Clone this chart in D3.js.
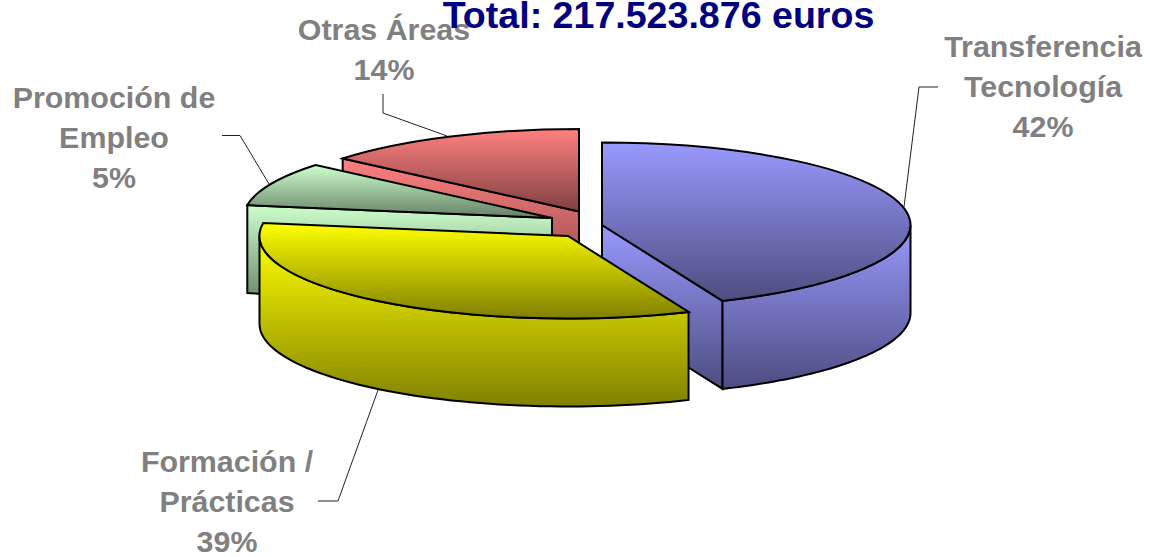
<!DOCTYPE html>
<html>
<head>
<meta charset="utf-8">
<script src="https://cdn.jsdelivr.net/npm/d3@7"></script>
<style>
html,body{margin:0;padding:0;background:#fff;overflow:hidden}
svg{display:block}
text{font-family:"Liberation Sans",Arial,sans-serif;font-weight:bold}
</style>
</head>
<body>
<script>
// ---- data ----
const titleText = "Total: 217.523.876 euros";
const categories = ["Transferencia Tecnología", "Formación / Prácticas", "Promoción de Empleo", "Otras Áreas"];
const shares = [42, 39, 5, 14];
const labelLines = [["Transferencia","Tecnología","42%"],["Formación /","Prácticas","39%"],["Promoción de","Empleo","5%"],["Otras Áreas","14%"]];
const topColors = ["#9999ff","#ffff00","#ccffcc","#ff8080"];
const bottomColors = ["#4d4d80","#808000","#668066","#804040"];

// ---- layout ----
const W = 1149, H = 557, rx = 308.5, ry = 82.5, depth = 88;
const centers = [[602,225],[568,236],[552,218],[579,211.5]];
const labelPos = [[1043,57],[227,472],[114,108],[384,40]];
const leaders = [
  [[904,207],[919,87],[938,87]],
  [[378,390],[338,501],[318,501]],
  [[269,184],[240,135.5],[222,135.5]],
  [[447,136],[383,113],[383,94]]
];
const lineH = 40, drawOrder = [3,0,2,1];

const svg = d3.select("body").append("svg").attr("width",W).attr("height",H);
const defs = svg.append("defs");
categories.forEach((c,i)=>{
  const g = defs.append("linearGradient").attr("id","g"+i).attr("x1",0).attr("y1",0).attr("x2",0).attr("y2",1);
  g.append("stop").attr("offset",0).attr("stop-color",topColors[i]);
  g.append("stop").attr("offset",1).attr("stop-color",bottomColors[i]);
});

// pie angles, then the chart's 3-D foreshortening of those angles
const deg = Math.PI/180;
const arcsRaw = d3.pie().sort(null).value(d=>d)(shares);
const foreshorten = d3.scaleLinear()
  .domain([0,151.2,291.6,309.6,360].map(d=>d*deg))
  .range([0,157,279,310,360].map(d=>d*deg));
const arcs = arcsRaw.map(a=>({...a,startAngle:foreshorten(a.startAngle),endAngle:foreshorten(a.endAngle)}));

const arcGen = d3.arc().innerRadius(0).outerRadius(rx);
const lineGen = d3.line();
const pt = (i,a,z=0)=>[centers[i][0]+rx*Math.sin(a), centers[i][1]-ry*Math.cos(a)+z];

function style(sel,i){
  return sel.attr("fill",`url(#g${i})`).attr("stroke","#000").attr("stroke-width",2)
    .attr("stroke-linejoin","miter");
}

// leader lines sit behind the pie
const leaderLine = d3.line();
svg.append("g").selectAll("path").data(leaders).join("path")
  .attr("d",d=>leaderLine(d)).attr("fill","none").attr("stroke","#222").attr("stroke-width",1);

drawOrder.forEach(i=>{
  const d = arcs[i], g = svg.append("g");
  const c = centers[i];
  // cut faces facing the viewer
  [[d.startAngle,d.startAngle-Math.PI/2],[d.endAngle,d.endAngle+Math.PI/2]].forEach(([a,n])=>{
    if(Math.cos(n) < -1e-6){
      const p = pt(i,a);
      style(g.append("path"),i).attr("d",lineGen([c,p,[p[0],p[1]+depth],[c[0],c[1]+depth]])+"Z");
    }
  });
  // rim, front half only
  const a0 = Math.max(d.startAngle,Math.PI/2), a1 = Math.min(d.endAngle,1.5*Math.PI);
  if(a1>a0){
    const as = d3.range(0,61).map(k=>a0+(a1-a0)*k/60);
    const rim = as.map(a=>pt(i,a)).concat(as.slice().reverse().map(a=>pt(i,a,depth)));
    style(g.append("path"),i).attr("d",lineGen(rim)+"Z");
  }
  // top face
  style(g.append("path"),i)
    .attr("d",arcGen(d))
    .attr("transform",`translate(${c[0]},${c[1]}) scale(1,${ry/rx})`)
    .attr("vector-effect","non-scaling-stroke");
});

// labels
labelLines.forEach((lines,i)=>{
  const t = svg.append("text").attr("text-anchor","middle").attr("font-size",30.4).attr("fill","#808080");
  lines.forEach((s,k)=>t.append("tspan").attr("x",labelPos[i][0]).attr("y",labelPos[i][1]+k*lineH).text(s));
});
svg.append("text").attr("x",658.5).attr("y",28).attr("text-anchor","middle")
  .attr("font-size",37.6).attr("fill","#000080").text(titleText);
</script>
</body>
</html>
